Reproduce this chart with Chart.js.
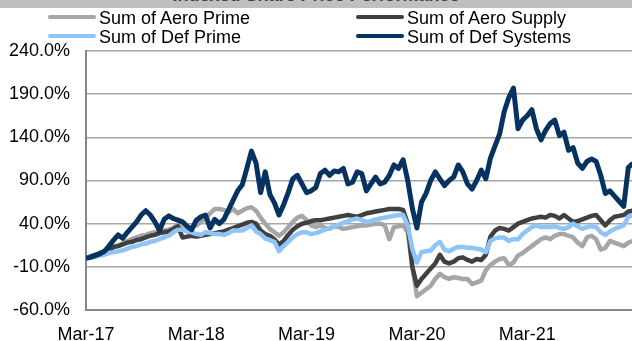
<!DOCTYPE html>
<html>
<head>
<meta charset="utf-8">
<script src="https://cdn.jsdelivr.net/npm/chart.js@4.4.1/dist/chart.umd.min.js"></script>
<style>
  body { margin: 0; background: #fff; font-family: "Liberation Sans", Arial, sans-serif; }
  #wrap { position: relative; width: 632px; height: 341px; overflow: hidden; }
  #band { position: absolute; left: 0; top: 0; width: 632px; height: 8px; background: #bfbfbf; overflow: hidden; }
  #band span { position: absolute; left: 0; width: 632px; top: -15px; text-align: center; font-size: 18px; font-weight: bold; color: #404040; }
  .leg { position: absolute; font-size: 18px; line-height: 18px; color: #000; white-space: nowrap; }
  .leg i { display: inline-block; width: 48px; height: 4px; border-radius: 2px; vertical-align: middle; margin-right: 3px; position: relative; top: -2px; }
  canvas { position: absolute; left: 0; top: 0; }
</style>
</head>
<body>
<div id="wrap">
  <canvas id="myChart" width="632" height="341"></canvas>
  <div id="band"><span>Indexed Share Price Performance</span></div>
  <div id="legend"></div>
</div>
<script>
// x axis labels (one per year, March)
const tickLabels = ["Mar-17", "Mar-18", "Mar-19", "Mar-20", "Mar-21"];
const seriesNames = ["Sum of Aero Prime", "Sum of Aero Supply", "Sum of Def Prime", "Sum of Def Systems"];
const seriesColors = ["#a6a6a6", "#404040", "#8ec4f8", "#06325f"];

// cumulative return in %, one reading every half month from Mar-17
const aeroPrime = [
  0, 1, 3, 5, 8, 10, 13, 15, 17, 20,
  22, 24, 26, 27, 29, 30, 31, 32, 33, 35,
  39, 34, 32, 36, 38, 42, 46, 52, 57, 57,
  56, 53, 57, 52, 55, 58, 59, 55, 47, 40,
  34, 30, 26, 30, 36, 42, 47, 49, 44, 38,
  36, 38, 35, 34, 37, 36, 34, 35, 36, 37,
  38, 38, 39, 40, 40, 38, 22, 36, 37, 38,
  30, -10, -44, -40, -36, -32, -24, -18, -22, -24,
  -22, -23, -24, -24, -30, -28, -26, -14, -8, -4,
  -1, 0, -8, -5, 3, 6, 10, 14, 18, 22,
  24, 22, 26, 28, 28, 26, 24, 18, 14, 24,
  26, 22, 10, 12, 20, 18, 16, 14, 18, 20
];
const aeroSupply = [
  0, 2, 4, 6, 8, 10, 13, 14, 16, 18,
  19, 21, 22, 24, 26, 27, 29, 30, 31, 34,
  37, 24, 25, 26, 25, 26, 27, 28, 29, 30,
  31, 33, 35, 37, 39, 41, 42, 40, 32, 28,
  26, 22, 16, 20, 27, 33, 37, 40, 41, 43,
  44, 44, 45, 46, 47, 48, 49, 50, 49, 48,
  50, 52, 53, 54, 55, 56, 57, 57, 57, 56,
  40, -10, -32, -24, -18, -12, -6, 4, -4, -6,
  -4, 0, 1, -2, -4, -1, -2, 4, 25, 32,
  35, 34, 32, 36, 40, 42, 44, 46, 47, 48,
  47, 50, 49, 46, 50, 46, 42, 43, 45, 47,
  49, 50, 44, 38, 44, 48, 49, 50, 54, 55
];
const defPrime = [
  0, 1, 2, 3, 4, 6, 7, 8, 9, 11,
  13, 14, 16, 17, 19, 20, 22, 24, 26, 30,
  33, 33, 31, 30, 28, 27, 30, 29, 28, 28,
  27, 29, 32, 32, 32, 35, 38, 31, 28, 23,
  21, 19, 8, 14, 19, 24, 28, 30, 30, 28,
  29, 31, 33, 35, 37, 39, 41, 43, 45, 46,
  44, 42, 43, 45, 46, 47, 48, 49, 50, 50,
  38, 11, -5, 7, 8, 9, 15, 19, 10, 8,
  11, 13, 13, 12, 12, 11, 10, 7, 20, 23,
  24, 24, 20, 22, 22, 28, 32, 36, 38, 36,
  36, 36, 37, 35, 34, 36, 40, 37, 34, 36,
  37, 36, 30, 27, 31, 34, 36, 38, 48, 50
];
const defSystems = [
  0, 1, 3, 5, 8, 14, 21, 27, 23, 30,
  36, 42, 50, 55, 50, 42, 32, 45, 49, 46,
  44, 42, 37, 33, 44, 48, 50, 35, 45, 40,
  45, 56, 67, 78, 85, 104, 124, 110, 76, 100,
  74, 64, 50, 62, 76, 92, 96, 86, 76, 78,
  82, 98, 102, 96, 101, 100, 104, 86, 88, 100,
  98, 78, 86, 94, 86, 88, 96, 108, 104, 114,
  90, 58, 35, 65, 75, 90, 100, 92, 84, 90,
  94, 108, 100, 86, 80, 90, 102, 92, 116, 130,
  144, 170, 186, 197, 150, 160, 165, 172, 150, 137,
  148, 156, 160, 142, 146, 125, 128, 110, 104, 112,
  115, 112, 96, 75, 78, 72, 66, 60, 105, 110
];

const stepMonths = 0.5;
function toPoints(arr) {
  return arr.map((v, i) => ({ x: i * stepMonths, y: v }));
}

// legend, two columns like the original
const legendPos = [[48, 9], [356, 9], [48, 28], [356, 28]];
const legendEl = document.getElementById("legend");
seriesNames.forEach((name, i) => {
  const d = document.createElement("div");
  d.className = "leg";
  d.style.left = legendPos[i][0] + "px";
  d.style.top = legendPos[i][1] + "px";
  d.innerHTML = '<i style="background:' + seriesColors[i] + '"></i>' + name;
  legendEl.appendChild(d);
});

const allSeries = [aeroPrime, aeroSupply, defPrime, defSystems];
const drawOrder = [3, 2, 1, 0];

const ctx = document.getElementById("myChart");
const myChart = new Chart(ctx, {
  type: "line",
  data: {
    datasets: allSeries.map((s, i) => ({
      label: seriesNames[i],
      data: toPoints(s),
      borderColor: seriesColors[i],
      backgroundColor: seriesColors[i],
      borderWidth: i === 3 ? 5 : 4.5,
      pointRadius: 0,
      tension: 0,
      borderJoinStyle: "round",
      order: drawOrder[i]
    }))
  },
  options: {
    responsive: false,
    animation: false,
    devicePixelRatio: 1,
    layout: { padding: { top: 51, right: 0, bottom: 0, left: 0 } },
    plugins: { legend: { display: false }, tooltip: { enabled: false } },
    scales: {
      x: {
        type: "linear",
        min: 0,
        max: 59.4,
        afterBuildTicks: s => { s.ticks = s.ticks.filter(t => t.value % 12 === 0); },
        afterFit: s => { s.height = 31; },
        grid: { display: false },
        border: { display: true, color: "#868686", width: 2 },
        ticks: {
          stepSize: 12,
          autoSkip: false,
          maxRotation: 0,
          padding: 6,
          color: "#000",
          font: { family: "'Liberation Sans', Arial", size: 18 },
          callback: v => tickLabels[v / 12]
        }
      },
      y: {
        min: -60,
        max: 240,
        afterFit: s => { s.width = 86; },
        grid: { color: "#a6a6a6", lineWidth: 1.5, drawTicks: false },
        border: { display: true, color: "#868686", width: 2 },
        ticks: {
          stepSize: 50,
          padding: 16,
          color: "#000",
          font: { family: "'Liberation Sans', Arial", size: 18 },
          callback: v => v.toFixed(1) + "%"
        }
      }
    }
  }
});
</script>
</body>
</html>
